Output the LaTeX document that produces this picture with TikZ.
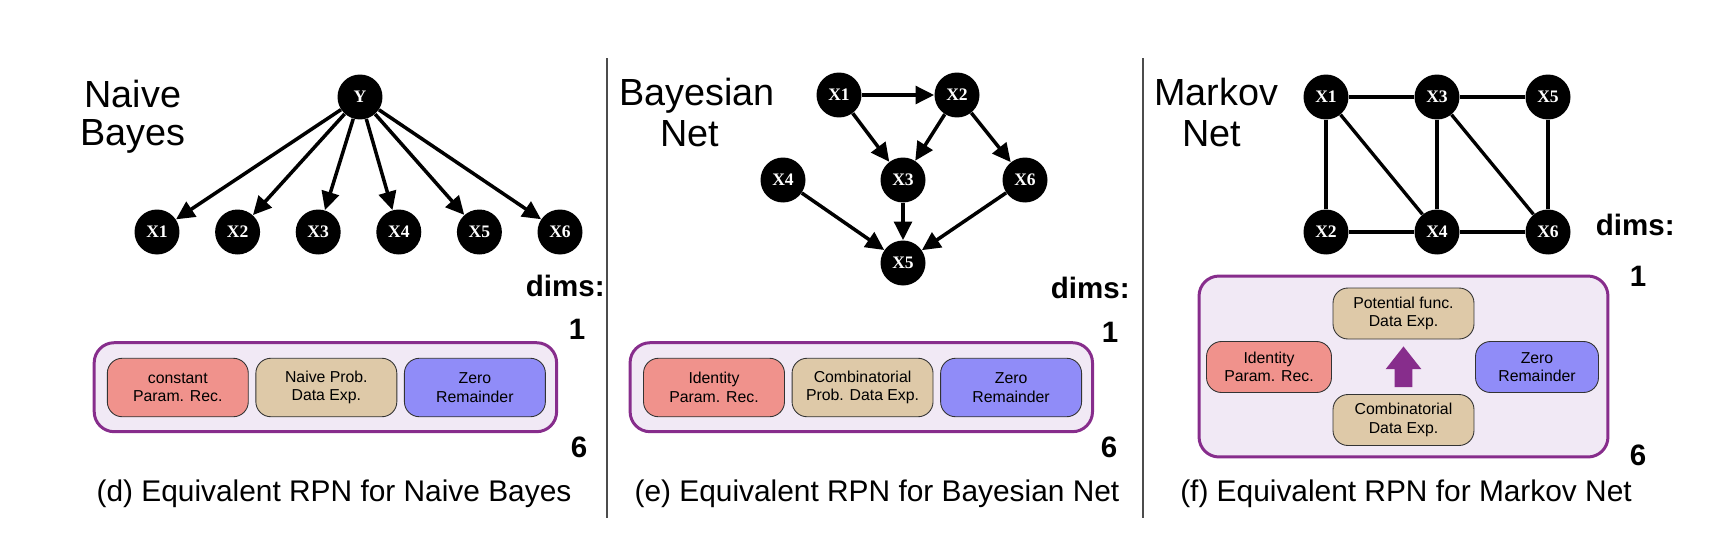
\documentclass[tikz,border=0pt]{standalone}
\usepackage{fontspec}
\setmainfont{Liberation Sans}
\newfontfamily\rvfont{Liberation Serif}
\usetikzlibrary{arrows.meta,positioning,calc}
\usepackage{xcolor}

\definecolor{rpnline}{RGB}{135,45,140}
\definecolor{rpnfill}{RGB}{241,233,245}
\definecolor{parfill}{RGB}{240,146,140}
\definecolor{expfill}{RGB}{222,201,168}
\definecolor{remfill}{RGB}{144,140,248}

\begin{document}
\begin{tikzpicture}[x=0.02cm, y=-0.02cm,
    rv/.style={circle, fill=black, text=white, inner sep=0pt, minimum size=0.9cm, font=\rvfont\bfseries\fontsize{10}{11}\selectfont},
    dep/.style={-{Triangle[length=10.5pt,width=10pt]}, line width=2pt},
    link/.style={line width=1.9pt},
    ttl/.style={anchor=base, font=\fontsize{21.5}{23}\selectfont},
    dimtxt/.style={anchor=base, inner sep=0pt, font=\bfseries\fontsize{16.8}{18}\selectfont},
    captxt/.style={anchor=base, font=\fontsize{17}{19}\selectfont},
    rpn/.style={draw=rpnline, line width=1.7pt, fill=rpnfill, rounded corners=0.4cm},
    blk/.style={draw=black!80, line width=0.5pt, rounded corners=0.3cm, minimum width=2.82cm, minimum height=1.17cm, align=center, font=\fontsize{9}{10.5}\selectfont},
    divider/.style={draw=black!70, line width=0.6pt}
]
    \useasboundingbox (0,0) rectangle (1722,538);

    % (d) naive bayes
    \node[ttl] (nbT1) at (133,107) {Naive};
    \node[ttl] (nbT2) at (133,145) {Bayes};
    \node[rv] (nbY) at (360,97) {Y};
    \foreach \i in {1,...,6}{
        \node[rv] (nbX\i) at ({157+80.6*(\i-1)},232) {X\i};
        \draw[dep] (nbY) -- (nbX\i);
    }
    \node[dimtxt, anchor=base east] (nbD) at (605,296) {dims:};
    \node[dimtxt] (nbLo) at (577,339) {1};
    \node[dimtxt] (nbHi) at (579,457) {6};
    \node[rpn, minimum width=9.25cm, minimum height=1.78cm] (nbR) at (325.4,387.2) {};
    \node[blk, fill=parfill] (nbPar) at (177.8,387.5) {constant\\Param. Rec.};
    \node[blk, fill=expfill, right=0.134cm of nbPar] (nbExp) {Naive Prob.\\Data Exp.};
    \node[blk, fill=remfill, right=0.134cm of nbExp] (nbRem) {Zero\\Remainder};
    \node[captxt] (nbCap) at (334,501) {(d) Equivalent RPN for Naive Bayes};

    \draw[divider] (607,58) -- (607,518);

    % (e) bayesian net
    \node[ttl] (bnT1) at (697,105) {Bayesian};
    \node[ttl] (bnT2) at (690,146) {Net};
    \node[rv] (bnX1) at (839,95) {X1};
    \node[rv] (bnX2) at (957,95) {X2};
    \node[rv] (bnX3) at (903,180) {X3};
    \node[rv] (bnX4) at (783,180) {X4};
    \node[rv] (bnX5) at (903,263) {X5};
    \node[rv] (bnX6) at (1025,180) {X6};
    \draw[dep] (bnX1) -- (bnX2);
    \draw[dep] (bnX1) -- (bnX3);
    \draw[dep] (bnX2) -- (bnX3);
    \draw[dep] (bnX2) -- (bnX6);
    \draw[dep] (bnX4) -- (bnX5);
    \draw[dep] (bnX3) -- (bnX5);
    \draw[dep] (bnX6) -- (bnX5);
    \node[dimtxt, anchor=base east] (bnD) at (1130,298) {dims:};
    \node[dimtxt] (bnLo) at (1110,342) {1};
    \node[dimtxt] (bnHi) at (1109,457) {6};
    \node[rpn, minimum width=9.25cm, minimum height=1.78cm] (bnR) at (861.3,387.2) {};
    \node[blk, fill=parfill] (bnPar) at (714,387.5) {Identity\\Param. Rec.};
    \node[blk, fill=expfill, right=0.134cm of bnPar] (bnExp) {Combinatorial\\Prob. Data Exp.};
    \node[blk, fill=remfill, right=0.134cm of bnExp] (bnRem) {Zero\\Remainder};
    \node[captxt] (bnCap) at (877,501) {(e) Equivalent RPN for Bayesian Net};

    \draw[divider] (1143,58) -- (1143,518);

    % (f) markov net
    \node[ttl] (mnT1) at (1216,105) {Markov};
    \node[ttl] (mnT2) at (1212,146) {Net};
    \node[rv] (mnX1) at (1326,97) {X1};
    \node[rv] (mnX3) at (1437,97) {X3};
    \node[rv] (mnX5) at (1548,97) {X5};
    \node[rv] (mnX2) at (1326,232) {X2};
    \node[rv] (mnX4) at (1437,232) {X4};
    \node[rv] (mnX6) at (1548,232) {X6};
    \draw[link] (mnX1) -- (mnX3);
    \draw[link] (mnX3) -- (mnX5);
    \draw[link] (mnX1) -- (mnX2);
    \draw[link] (mnX1) -- (mnX4);
    \draw[link] (mnX3) -- (mnX4);
    \draw[link] (mnX3) -- (mnX6);
    \draw[link] (mnX5) -- (mnX6);
    \draw[link] (mnX2) -- (mnX4);
    \draw[link] (mnX4) -- (mnX6);
    \node[dimtxt, anchor=base east] (mnD) at (1675,235) {dims:};
    \node[dimtxt] (mnLo) at (1638,286) {1};
    \node[dimtxt] (mnHi) at (1638,465) {6};
    \node[rpn, minimum width=8.18cm, minimum height=3.62cm] (mnR) at (1403.5,366.5) {};
    \node[blk, fill=parfill, minimum width=2.5cm, minimum height=1.02cm] (mnPar) at (1269,367) {Identity\\Param. Rec.};
    \node[blk, fill=expfill, minimum height=1.02cm] (mnPot) at (1403.5,313.5) {Potential func.\\Data Exp.};
    \node[blk, fill=expfill, minimum height=1.02cm] (mnCmb) at (1403.5,420) {Combinatorial\\Data Exp.};
    \node[blk, fill=remfill, minimum width=2.46cm, minimum height=1.02cm] (mnRem) at (1537,367) {Zero\\Remainder};
    \fill[rpnline] ($(mnCmb.north)+(-8.8,-7)$) -- ++(0,-18) -- ++(-9,0) -- ($(mnPot.south)+(0,7)$)
        -- ($(mnCmb.north)+(17.8,-25)$) -- ++(-9,0) -- ($(mnCmb.north)+(8.8,-7)$) -- cycle;
    \node[captxt] (mnCap) at (1406,501) {(f) Equivalent RPN for Markov Net};
\end{tikzpicture}
\end{document}
